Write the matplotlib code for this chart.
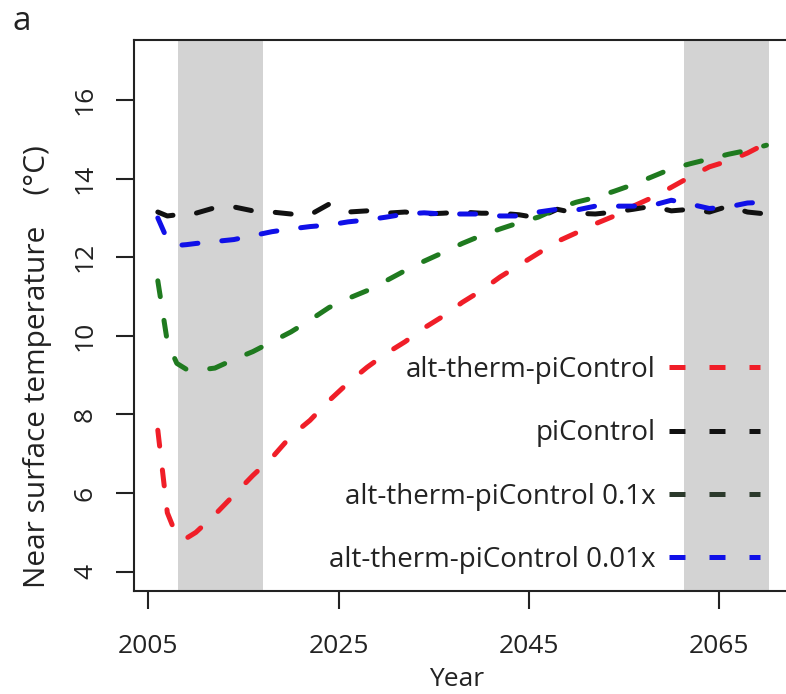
import matplotlib
matplotlib.use("Agg")
import matplotlib.pyplot as plt

plt.rcParams['font.family'] = ['Open Sans', 'DejaVu Sans']

# data
years = [2006, 2007, 2008, 2009, 2010] + list(range(2012, 2071, 2))

alt_therm = [7.6, 5.5, 4.9, 4.85, 5.0, 5.45, 5.95, 6.45, 6.9, 7.45, 7.85, 8.35,
             8.8, 9.2, 9.55, 9.85, 10.2, 10.5, 10.85, 11.15, 11.5, 11.8, 12.1,
             12.4, 12.62, 12.85, 13.05, 13.3, 13.52, 13.78, 14.05, 14.3, 14.45,
             14.65, 14.9]
pi_control = [13.15, 13.05, 13.08, 13.05, 13.12, 13.26, 13.28, 13.18, 13.15,
              13.1, 13.08, 13.35, 13.15, 13.18, 13.12, 13.15, 13.1, 13.12, 13.15,
              13.12, 13.12, 13.08, 13.0, 13.22, 13.12, 13.1, 13.15, 13.22, 13.3,
              13.18, 13.22, 13.15, 13.3, 13.15, 13.1]
alt_01x = [11.4, 9.85, 9.3, 9.15, 9.12, 9.18, 9.4, 9.6, 9.85, 10.1, 10.4, 10.72,
           10.95, 11.15, 11.4, 11.66, 11.9, 12.12, 12.35, 12.55, 12.72, 12.88,
           13.02, 13.24, 13.4, 13.52, 13.68, 13.85, 14.05, 14.25, 14.38, 14.5,
           14.62, 14.72, 14.85]
alt_001x = [13.0, 12.45, 12.3, 12.32, 12.35, 12.4, 12.45, 12.55, 12.65, 12.72,
            12.78, 12.82, 12.9, 12.95, 13.02, 13.1, 13.13, 13.1, 13.1, 13.1,
            13.05, 13.05, 13.15, 13.22, 13.2, 13.3, 13.3, 13.3, 13.32, 13.45,
            13.35, 13.24, 13.28, 13.38, 13.4]

shaded_periods = [(2008.1, 2017.1), (2061.3, 2070.3)]

labels = ["alt-therm-piControl", "piControl",
          "alt-therm-piControl 0.1x", "alt-therm-piControl 0.01x"]
line_colors = ['#f01e28', '#111111', '#1f7a1f', '#1010e8']
legend_colors = ['#f01e28', '#111111', '#2c3a2c', '#1010e8']

xticks = [2005, 2025, 2045, 2065]
yticks = [4, 6, 8, 10, 12, 14, 16]

W, H = 786, 694
fig = plt.figure(figsize=(W / 100, H / 100), dpi=100)
ax = fig.add_axes([134 / W, (H - 591) / H, (800 - 134) / W, (591 - 40) / H])

for x0, x1 in shaded_periods:
    ax.axvspan(x0, x1, color='#d3d3d3', lw=0, zorder=0)

series = [alt_therm, pi_control, alt_01x, alt_001x]
for i in [1, 2, 0, 3]:
    ax.plot(years, series[i], color=line_colors[i], lw=3.6,
            dashes=(3.2, 4.8), dash_capstyle='round', zorder=2 + i)

# legend handles use the colours of the reference legend
handles = [plt.Line2D([], [], color=c, lw=3.6, dashes=(3.2, 4.8))
           for c in legend_colors]
leg = ax.legend(handles, labels, loc='lower right',
                bbox_to_anchor=(0.940, 0.031), frameon=False,
                markerfirst=False, fontsize=20, handlelength=3.27,
                handletextpad=0.5, labelspacing=1.27, borderpad=0,
                borderaxespad=0)
for t in leg.get_texts():
    t.set_color('#222222')

ax.set_xlim(2005 - 14.3 / 9.51, 2005 + (800 - 148.3) / 9.51)
ax.set_ylim(4 - 19.3 / 39.3, 16 + 60 / 39.3)
ax.set_xticks(xticks)
ax.set_yticks(yticks)

for s in ['top', 'left', 'bottom']:
    ax.spines[s].set_linewidth(1.5)
    ax.spines[s].set_color('#222222')
ax.spines['right'].set_visible(False)

ax.tick_params(axis='both', length=13, width=1.5, color='#222222',
               labelsize=19, labelcolor='#222222')
ax.tick_params(axis='x', pad=18)
ax.tick_params(axis='y', pad=13, labelrotation=90)
for lab in ax.get_yticklabels():
    lab.set_va('center')

fig.text(38 / W, 1 - 367 / H, 'Near surface temperature    (°C)', rotation=90,
         ha='center', va='center', fontsize=21.5, color='#222222')
fig.text(457 / W, 1 - 679 / H, 'Year', ha='center', va='center',
         fontsize=19, color='#222222')
fig.text(22 / W, 1 - 22 / H, 'a', ha='center', va='center', fontsize=24,
         color='#222222')

fig.savefig('out.png', dpi=100)
